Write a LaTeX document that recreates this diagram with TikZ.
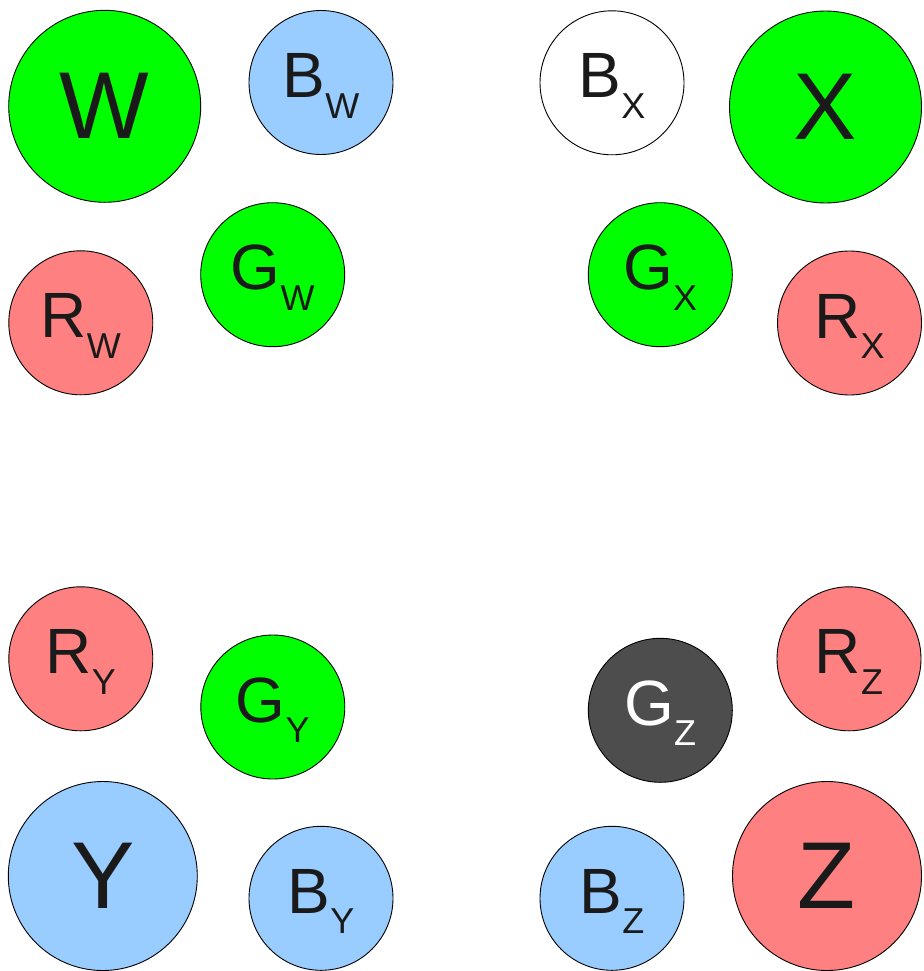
\documentclass[tikz,border=0pt]{standalone}
\usepackage{fontspec}
\setmainfont{Liberation Sans}
\definecolor{cgreen}{HTML}{00FF00}
\definecolor{cblue}{HTML}{99CCFF}
\definecolor{cred}{HTML}{FF8080}
\definecolor{cdark}{HTML}{4D4D4D}
\definecolor{ctext}{HTML}{1A1A1A}
\newcommand{\circlbl}[2]{#1\raisebox{-20.6pt}{\fontsize{36}{36}\selectfont #2}}
\tikzset{
  ball/.style={circle, draw=black, line width=0.9pt, inner sep=0pt, text=ctext},
  bigball/.style={ball, minimum size=#1, font=\fontsize{95}{95}\selectfont},
  smallball/.style={ball, minimum size=144pt, font=\fontsize{64}{64}\selectfont, text height=46pt, text depth=16pt},
}
\begin{document}
\begin{tikzpicture}[x=1pt,y=-1pt]
\useasboundingbox (0,0) rectangle (923,971);
% W group
\node[bigball=192pt, fill=cgreen] (W) at (104.7,106.3) {W};
\node[smallball, fill=cblue] (BW) at (321,82.5) {\circlbl{B}{W}};
\node[smallball, fill=cgreen] (GW) at (272.7,274.7) {\circlbl{G}{W}};
\node[smallball, fill=cred] (RW) at (80.8,322.8) {\circlbl{R}{W}};
% X group
\node[smallball, fill=white] (BX) at (612,82.8) {\circlbl{B}{X}};
\node[bigball=192pt, fill=cgreen] (X) at (825.5,107) {X};
\node[smallball, fill=cgreen] (GX) at (660.3,274.7) {\circlbl{G}{X}};
\node[smallball, fill=cred] (RX) at (849.5,323) {\circlbl{R}{X}};
% Y group
\node[smallball, fill=cred] (RY) at (80.8,658.8) {\circlbl{R}{Y}};
\node[smallball, fill=cgreen] (GY) at (272.8,707) {\circlbl{G}{Y}};
\node[bigball=189pt, fill=cblue] (Y) at (102.8,876) {Y};
\node[smallball, fill=cblue] (BY) at (321,898.3) {\circlbl{B}{Y}};
% Z group
\node[smallball, fill=cdark, text=white] (GZ) at (660.3,710.3) {\circlbl{G}{Z}};
\node[smallball, fill=cred] (RZ) at (849,658.8) {\circlbl{R}{Z}};
\node[smallball, fill=cblue] (BZ) at (612,898.3) {\circlbl{B}{Z}};
\node[bigball=189pt, fill=cred] (Z) at (827,876) {Z};
\end{tikzpicture}
\end{document}
